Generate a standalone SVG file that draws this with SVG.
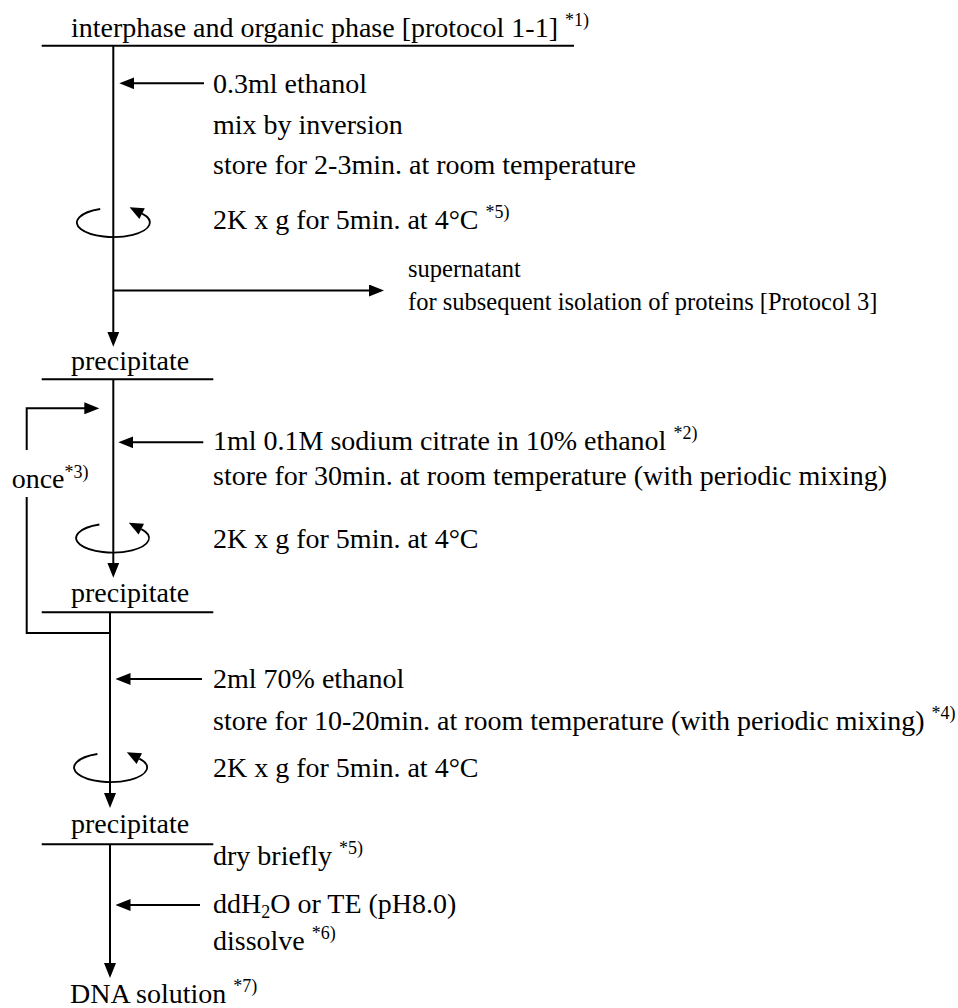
<svg xmlns="http://www.w3.org/2000/svg" xmlns:xlink="http://www.w3.org/1999/xlink" width="958" height="1008" viewBox="0 0 958 1008">
<style>
.t{font-family:"Liberation Serif","Times New Roman",serif;font-size:28px;fill:#000}
.s{font-family:"Liberation Serif","Times New Roman",serif;font-size:24.5px;fill:#000}
.sup{font-size:18px}
.ln{stroke:#000;stroke-width:2;fill:none}
.ar{stroke:#000;stroke-width:2;fill:none;marker-end:url(#ah)}
.cf{stroke:#000;stroke-width:1.8;fill:none}
</style>
<defs>
<marker id="ah" markerUnits="userSpaceOnUse" viewBox="0 0 15 12" markerWidth="15" markerHeight="12" refX="2" refY="6" orient="auto">
<path d="M0,0 L15,6 L0,12 z" fill="#000"/>
</marker>
<g id="cf">
<path class="cf" d="M-13.1,-13.5 A36.5,14.5 0 1 0 28.8,-8.9"/>
<polygon points="16.3,-15.2 31.5,-14.3 26.1,-3.5" fill="#000"/>
</g>
</defs>
<rect width="958" height="1008" fill="#fff"/>

<g id="connectors">
<line class="ln" x1="41.7" y1="45.7" x2="574" y2="45.7"/>
<path class="ar" d="M113.3,45.7 V333.7"/>
<path class="ar" d="M204,83.3 H132.3"/>
<use xlink:href="#cf" href="#cf" transform="translate(113.3,222.5)"/>
<path class="ar" d="M113.3,290.5 H371"/>
<line class="ln" x1="41.7" y1="379.3" x2="213.3" y2="379.3"/>
<path class="ar" d="M113.3,379.3 V564.7"/>
<path class="ar" d="M26.7,450 V408.3 H86.3"/>
<path class="ln" d="M26.7,497 V633 H110"/>
<path class="ar" d="M203.3,442.3 H131.3"/>
<use xlink:href="#cf" href="#cf" transform="translate(112.5,538)"/>
<line class="ln" x1="41.7" y1="612.3" x2="213.3" y2="612.3"/>
<path class="ar" d="M110,612.3 V795"/>
<path class="ar" d="M202,679 H128.5"/>
<use xlink:href="#cf" href="#cf" transform="translate(110.5,767.5)"/>
<line class="ln" x1="41.7" y1="844.3" x2="213.3" y2="844.3"/>
<path class="ar" d="M110,844.3 V965"/>
<path class="ar" d="M200,905 H128.5"/>
</g>

<g id="start">
<text class="t" x="71" y="37">interphase and organic phase [protocol 1-1] <tspan class="sup" dy="-11">*1)</tspan></text>
</g>
<g id="step1">
<text class="t" x="213" y="92.5">0.3ml ethanol</text>
<text class="t" x="213" y="133.5">mix by inversion</text>
<text class="t" x="213" y="174">store for 2-3min. at room temperature</text>
<text class="t" x="213" y="228.5">2K x g for 5min. at 4°C <tspan class="sup" dy="-11">*5)</tspan></text>
</g>
<g id="supernatant">
<text class="s" x="408" y="277">supernatant</text>
<text class="s" x="408" y="310">for subsequent isolation of proteins [Protocol 3]</text>
</g>
<g id="precipitate1">
<text class="t" x="71" y="370">precipitate</text>
</g>
<g id="loop">
<text class="t" x="11.7" y="488">once<tspan class="sup" dy="-10">*3)</tspan></text>
</g>
<g id="step2">
<text class="t" x="213" y="450">1ml 0.1M sodium citrate in 10% ethanol <tspan class="sup" dy="-11">*2)</tspan></text>
<text class="t" x="213" y="484.5">store for 30min. at room temperature (with periodic mixing)</text>
<text class="t" x="213" y="548">2K x g for 5min. at 4°C</text>
</g>
<g id="precipitate2">
<text class="t" x="71" y="601.7">precipitate</text>
</g>
<g id="step3">
<text class="t" x="213" y="688">2ml 70% ethanol</text>
<text class="t" x="213" y="729.5">store for 10-20min. at room temperature (with periodic mixing) <tspan class="sup" dy="-11">*4)</tspan></text>
<text class="t" x="213" y="777">2K x g for 5min. at 4°C</text>
</g>
<g id="precipitate3">
<text class="t" x="71" y="833">precipitate</text>
</g>
<g id="step4">
<text class="t" x="213" y="865">dry briefly <tspan class="sup" dy="-11">*5)</tspan></text>
<text class="t" x="213" y="913">ddH<tspan class="sup" dy="5">2</tspan><tspan dy="-5">O or TE (pH8.0)</tspan></text>
<text class="t" x="213" y="950">dissolve <tspan class="sup" dy="-11">*6)</tspan></text>
</g>
<g id="result">
<text class="t" x="70" y="1003">DNA solution <tspan class="sup" dy="-11">*7)</tspan></text>
</g>
</svg>
